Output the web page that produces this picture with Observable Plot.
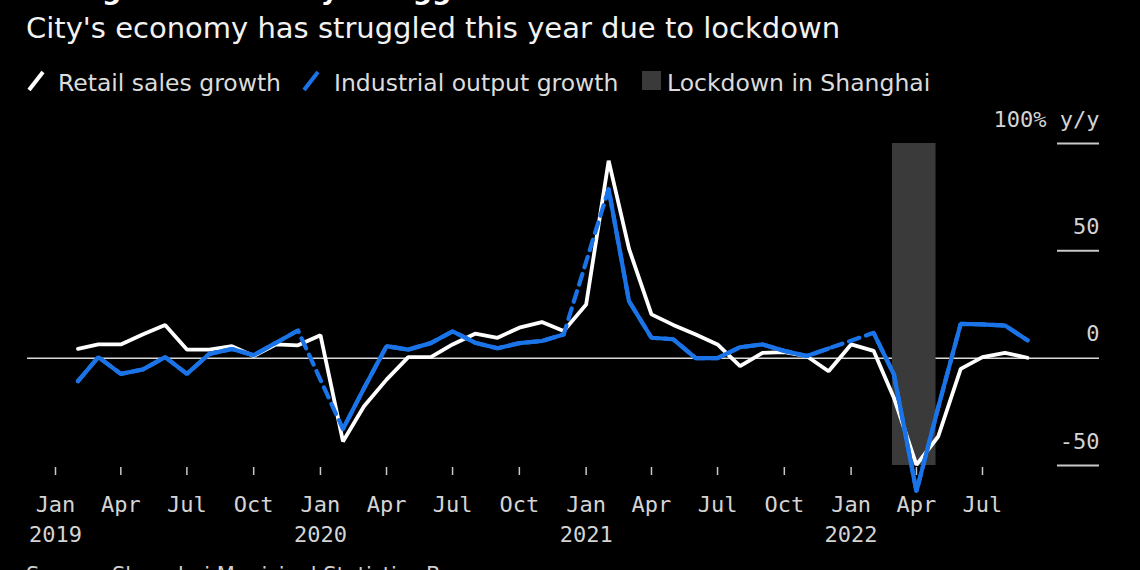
<!DOCTYPE html>
<html>
<head>
<meta charset="utf-8">
<script src="https://cdn.jsdelivr.net/npm/d3@7"></script>
<script src="https://cdn.jsdelivr.net/npm/@observablehq/plot@0.6"></script>
<style>
  html, body { margin: 0; padding: 0; background: #000; }
  #wrap { position: relative; width: 1140px; height: 570px; overflow: hidden; background: #000; }
  .t { position: absolute; white-space: nowrap; line-height: 1; }
  #title { left: 26px; top: -26px; font: bold 27px "DejaVu Sans"; color: #fff; }
  #subtitle { left: 26px; top: 11px; font: 29px "DejaVu Sans"; color: #f2f2f2; }
  .leg { top: 69px; font: 23.5px "DejaVu Sans"; color: #dcdcdc; }
  .sw { position: absolute; top: 70px; }
  #caption { left: 26px; top: 563px; font: 21px "DejaVu Sans"; color: #cfcfcf; }
  #chart { position: absolute; left: 0; top: 100px; }
</style>
</head>
<body>
<div id="wrap">
  <div class="t" id="title">Shanghai's Economy Struggles</div>
  <div class="t" id="subtitle">City's economy has struggled this year due to lockdown</div>
  <svg class="sw" style="left:26px" width="20" height="22"><line x1="3" y1="20" x2="17" y2="2" stroke="#ffffff" stroke-width="4"/></svg>
  <div class="t leg" style="left:58px">Retail sales growth</div>
  <svg class="sw" style="left:301px" width="20" height="22"><line x1="3" y1="20" x2="17" y2="2" stroke="#1a74e8" stroke-width="4"/></svg>
  <div class="t leg" style="left:334px">Industrial output growth</div>
  <svg class="sw" style="left:642px;top:71px" width="19" height="19"><rect x="0" y="0" width="19" height="19" fill="#3a3a3a"/></svg>
  <div class="t leg" style="left:667px">Lockdown in Shanghai</div>
  <div id="chart"></div>
  <div class="t" id="caption">Source: Shanghai Municipal Statistics Bureau</div>
</div>
<script>
// ---- data (monthly, % y/y) ----
const months = [
  "2019-02","2019-03","2019-04","2019-05","2019-06","2019-07","2019-08","2019-09","2019-10","2019-11","2019-12",
  "2020-01","2020-02","2020-03","2020-04","2020-05","2020-06","2020-07","2020-08","2020-09","2020-10","2020-11","2020-12",
  "2021-01","2021-02","2021-03","2021-04","2021-05","2021-06","2021-07","2021-08","2021-09","2021-10","2021-11","2021-12",
  "2022-01","2022-02","2022-03","2022-04","2022-05","2022-06","2022-07","2022-08","2022-09"
];
const retailSales = [
  4.3, 6.4, 6.4, 11, 15.4, 4, 4, 5.6, 1, 6.4, 6,
  10.7, -38.8, -22.4, -10, 0.5, 0.5, 6.4, 11.4, 9.5, 14.2, 16.8, 12.6,
  25, 92, 51, 20.4, 15.5, 11, 6.4, -3.7, 2.5, 2.8, 0.9, -6.1,
  6.4, 3.4, -18.5, -49.7, -36.5, -5, 0.5, 2.5, 0.2
];
const industrialOutput = [
  -10.7, 0.5, -7.3, -5.3, 0.5, -7.3, 2, 4.3, 1.4, 7.2, 12.9,
  null, -33, -14, 5.6, 4, 7, 12.5, 7.2, 4.6, 7, 8, 11,
  null, 78.8, 26.6, 9.5, 8.8, 0, 0, 5.1, 6.4, 3.4, 1, 4.5,
  null, 11.8, -7.6, -62, -23, 16, 15.7, 15.2, 8.3
];
const lockdownStart = "2022-02-27";
const lockdownEnd = "2022-04-28";
const yDomain = [-50, 100];
const yTicks = [100, 50, 0, -50];
const yTickLines = [100, 50, -50];
const tickMonthNames = {0: "Jan", 3: "Apr", 6: "Jul", 9: "Oct"};
const yTopLabel = "100% y/y";

// ---- build table ----
const table = months.map((m, i) => ({
  date: new Date(m + "-01"),
  retail: retailSales[i] == null ? NaN : retailSales[i],
  industrial: industrialOutput[i] == null ? NaN : industrialOutput[i]
}));
const industrialDefined = table.filter(d => !isNaN(d.industrial));
const lockdown = [{start: new Date(lockdownStart), end: new Date(lockdownEnd), low: yDomain[0], high: yDomain[1]}];
const xTicks = d3.utcMonths(new Date("2019-01-01"), new Date("2022-08-01"), 3);
const fmtX = d => {
  const m = d.getUTCMonth();
  return m === 0 ? `${tickMonthNames[m]}\n${d.getUTCFullYear()}` : tickMonthNames[m];
};

const BLUE = "#1a74e8";
const chart = Plot.plot({
  width: 1140,
  height: 470,
  marginTop: 43,
  marginBottom: 103,
  marginLeft: 55,
  marginRight: 113,
  style: {background: "transparent", color: "#d4d4d4", fontFamily: "DejaVu Sans Mono", fontSize: "22px", overflow: "visible"},
  x: {type: "utc", domain: [new Date("2019-01-01"), new Date("2022-09-01")]},
  y: {domain: yDomain, insetBottom: 2},
  marks: [
    Plot.ruleY([0], {stroke: "#d9d9d9", strokeWidth: 1.5, insetLeft: -28, insetRight: -72}),
    Plot.ruleY(yTickLines, {stroke: "#c8c8c8", strokeWidth: 2, insetLeft: 1002, insetRight: -72}),
    Plot.rect(lockdown, {x1: "start", x2: "end", y1: "low", y2: "high", fill: "#3a3a3a"}),
    Plot.line(table, {x: "date", y: "retail", stroke: "#ffffff", strokeWidth: 3.8, strokeLinejoin: "miter"}),
    Plot.line(industrialDefined, {x: "date", y: "industrial", stroke: BLUE, strokeWidth: 4.2, strokeDasharray: "11,7", strokeLinejoin: "miter"}),
    Plot.line(table, {x: "date", y: "industrial", stroke: BLUE, strokeWidth: 4.2, strokeLinejoin: "miter"}),
    Plot.axisX({ticks: xTicks, tickFormat: fmtX, tickSize: 8, tickPadding: 15, stroke: "#c8c8c8", strokeWidth: 1.5, fill: "#d4d4d4", lineHeight: 1.36, fontSize: 22}),
    Plot.axisY(yTicks, {anchor: "right", tickSize: 0, tickPadding: 72, dy: -24, textAnchor: "end", fill: "#d4d4d4", fontSize: 22,
      tickFormat: d => d === yDomain[1] ? yTopLabel : String(d)})
  ]
});
document.getElementById("chart").appendChild(chart);
</script>
</body>
</html>
